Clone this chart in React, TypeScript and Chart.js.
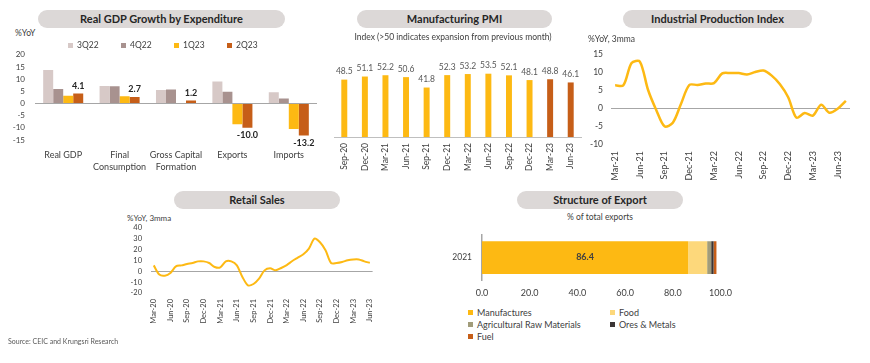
import React, { useEffect, useRef } from 'react';
import { Chart, registerables } from 'chart.js';

Chart.register(...registerables);

const FONT = 'Lato, "Open Sans", "Noto Sans", sans-serif';
const TEXT = '#404040';
const GOLD = '#fdb913';
const RUST = '#c65e18';
const AXIS_GRAY = '#a6a6a6';
const PILL_BG = '#dcd8d7';

// ---------- Real GDP Growth by Expenditure ----------
const gdpCategories = [['Real GDP'], ['Final', 'Consumption'], ['Gross Capital', 'Formation'], ['Exports'], ['Imports']];
const gdpSeriesNames = ['3Q22', '4Q22', '1Q23', '2Q23'];
const gdp3Q22 = [13.8, 7.2, 5.5, 9.0, 4.6];
const gdp4Q22 = [6.0, 7.1, 5.7, 4.8, 2.0];
const gdp1Q23 = [3.2, 3.0, 0, -8.5, -10.5];
const gdp2Q23 = [4.1, 2.7, 1.2, -10.0, -13.2];
const gdpColors = ['#d7c9c7', '#a8928f', GOLD, RUST];

// ---------- Manufacturing PMI ----------
const pmiLabels = ['Sep-20', 'Dec-20', 'Mar-21', 'Jun-21', 'Sep-21', 'Dec-21', 'Mar-22', 'Jun-22', 'Sep-22', 'Dec-22', 'Mar-23', 'Jun-23'];
const pmiValues = [48.5, 51.1, 52.2, 50.6, 41.8, 52.3, 53.2, 53.5, 52.1, 48.1, 48.8, 46.1];
const pmiHighlightLabels = ['Mar-23', 'Jun-23'];

// ---------- Industrial Production Index ----------
const ipiMonths = ['Mar-21', 'Apr-21', 'May-21', 'Jun-21', 'Jul-21', 'Aug-21', 'Sep-21', 'Oct-21', 'Nov-21', 'Dec-21',
  'Jan-22', 'Feb-22', 'Mar-22', 'Apr-22', 'May-22', 'Jun-22', 'Jul-22', 'Aug-22', 'Sep-22', 'Oct-22', 'Nov-22', 'Dec-22',
  'Jan-23', 'Feb-23', 'Mar-23', 'Apr-23', 'May-23', 'Jun-23', 'Jul-23'];
const ipiValues = [6.3, 6.3, 12.5, 12.9, 5.0, -0.6, -5.1, -4.1, 1.2, 6.4,
  6.4, 6.8, 6.9, 9.6, 9.7, 9.7, 9.3, 10.0, 10.4, 9.0, 6.6, 3.0,
  -2.7, -1.4, -2.1, 0.9, -1.3, -0.2, 2.0];

// ---------- Retail Sales ----------
const retailMonths = ['Mar-20', 'Apr-20', 'May-20', 'Jun-20', 'Jul-20', 'Aug-20', 'Sep-20', 'Oct-20', 'Nov-20', 'Dec-20',
  'Jan-21', 'Feb-21', 'Mar-21', 'Apr-21', 'May-21', 'Jun-21', 'Jul-21', 'Aug-21', 'Sep-21', 'Oct-21', 'Nov-21', 'Dec-21',
  'Jan-22', 'Feb-22', 'Mar-22', 'Apr-22', 'May-22', 'Jun-22', 'Jul-22', 'Aug-22', 'Sep-22', 'Oct-22', 'Nov-22', 'Dec-22',
  'Jan-23', 'Feb-23', 'Mar-23', 'Apr-23', 'May-23', 'Jun-23'];
const retailValues = [5.5, -3.0, -4.0, -1.5, 4.6, 5.5, 6.8, 7.7, 9.2, 9.2,
  7.7, 4.0, 3.7, 9.2, 9.2, 5.5, -5.2, -12.9, -11.7, -6.8, 0.9, 2.8,
  0.9, 3.1, 5.8, 9.5, 12.6, 15.7, 20.9, 30.2, 26.8, 19.4, 7.7, 7.7,
  8.6, 10.2, 11.0, 11.0, 9.2, 7.9];

// ---------- Structure of Export ----------
const exportYears = ['2021'];
const exportCategories = ['Manufactures', 'Food', 'Agricultural Raw Materials', 'Ores & Metals', 'Fuel'];
const exportShares = [86.4, 8.0, 1.7, 1.0, 1.2];
const exportColors = [GOLD, '#fdd87b', '#a19c7a', '#3b3535', RUST];

const font = (size: number, weight: string = 'normal', lineHeight: number = 1.2) => ({ family: FONT, size, weight, lineHeight });

const zeroGrid = {
  drawTicks: false,
  color: (ctx: any) => (ctx.tick && ctx.tick.value === 0 ? AXIS_GRAY : 'rgba(0,0,0,0)'),
  lineWidth: 1,
};

const quarterTick = function (this: any, v: any, i: number) {
  return i % 3 === 0 ? this.getLabelForValue(v) : null;
};

const baseOptions = {
  responsive: false,
  maintainAspectRatio: false,
  animation: false,
  events: [],
};

function gdpConfig(): any {
  const series = [gdp3Q22, gdp4Q22, gdp1Q23, gdp2Q23];
  const labelPlugin = {
    id: 'gdpLabels',
    afterDatasetsDraw(chart: any) {
      const ctx = chart.ctx;
      const meta = chart.getDatasetMeta(3);
      ctx.save();
      ctx.font = `bold 9px ${FONT}`;
      ctx.fillStyle = '#262626';
      ctx.textAlign = 'center';
      meta.data.forEach((bar: any, i: number) => {
        const v = gdp2Q23[i];
        if (v >= 0) {
          ctx.textBaseline = 'bottom';
          ctx.fillText(v.toFixed(1), bar.x, bar.y - 3);
        } else {
          ctx.textBaseline = 'top';
          ctx.fillText(v.toFixed(1), bar.x, bar.y + 3);
        }
      });
      ctx.restore();
    },
  };
  return {
    type: 'bar',
    data: {
      labels: gdpCategories,
      datasets: gdpSeriesNames.map((name, i) => ({
        label: name,
        data: series[i],
        backgroundColor: gdpColors[i],
        borderWidth: 0,
        categoryPercentage: 0.71,
        barPercentage: 1,
      })),
    },
    options: {
      ...baseOptions,
      layout: { padding: { left: 0, right: 8, top: 0, bottom: 0 } },
      plugins: { legend: { display: false }, tooltip: { enabled: false } },
      scales: {
        x: {
          grid: { display: false, drawTicks: false },
          border: { display: false },
          ticks: { color: TEXT, font: font(9, 'normal', 1.35), padding: 9, autoSkip: false, maxRotation: 0, minRotation: 0 },
          afterFit: (s: any) => { s.height = 45; },
        },
        y: {
          min: -15,
          max: 20,
          ticks: { stepSize: 5, autoSkip: false, color: TEXT, font: font(8), padding: 10 },
          grid: zeroGrid,
          border: { display: false },
          afterFit: (s: any) => { s.width = 35; },
        },
      },
    },
    plugins: [labelPlugin],
  };
}

function pmiConfig(): any {
  const labelPlugin = {
    id: 'pmiLabels',
    afterDatasetsDraw(chart: any) {
      const ctx = chart.ctx;
      const meta = chart.getDatasetMeta(0);
      ctx.save();
      ctx.font = `8.5px ${FONT}`;
      ctx.fillStyle = '#595959';
      ctx.textAlign = 'center';
      ctx.textBaseline = 'bottom';
      meta.data.forEach((bar: any, i: number) => {
        ctx.fillText(pmiValues[i].toFixed(1), bar.x, bar.y - 4);
      });
      ctx.restore();
    },
  };
  return {
    type: 'bar',
    data: {
      labels: pmiLabels,
      datasets: [{
        data: pmiValues,
        backgroundColor: pmiLabels.map((l) => (pmiHighlightLabels.includes(l) ? RUST : GOLD)),
        borderWidth: 0,
        categoryPercentage: 1,
        barPercentage: 0.29,
      }],
    },
    options: {
      ...baseOptions,
      layout: { padding: { left: 16, right: 9, top: 26, bottom: 0 } },
      plugins: { legend: { display: false }, tooltip: { enabled: false } },
      scales: {
        x: {
          grid: { display: false, drawTicks: false },
          border: { display: true, color: '#bfbfbf', width: 1 },
          ticks: { color: TEXT, font: font(8.5), padding: 6, autoSkip: false, minRotation: 90, maxRotation: 90 },
          afterFit: (s: any) => { s.height = 48; },
        },
        y: { display: false, min: 0, max: 60 },
      },
    },
    plugins: [labelPlugin],
  };
}

function lineConfig(labels: string[], values: number[], yMin: number, yMax: number, step: number,
  pad: any, yWidth: number, xHeight: number, tickSize: number, xTickSize: number, xPad: number, yPad: number, lw: number): any {
  return {
    type: 'line',
    data: {
      labels,
      datasets: [{
        data: values,
        borderColor: GOLD,
        borderWidth: lw,
        pointRadius: 0,
        tension: 0.3,
        fill: false,
      }],
    },
    options: {
      ...baseOptions,
      layout: { padding: pad },
      plugins: { legend: { display: false }, tooltip: { enabled: false } },
      scales: {
        x: {
          offset: true,
          grid: { display: false, drawTicks: false },
          border: { display: false },
          ticks: { color: TEXT, font: font(xTickSize), padding: xPad, autoSkip: false, minRotation: 90, maxRotation: 90, callback: quarterTick },
          afterFit: (s: any) => { s.height = xHeight; },
        },
        y: {
          min: yMin,
          max: yMax,
          ticks: { stepSize: step, autoSkip: false, color: TEXT, font: font(tickSize), padding: yPad },
          grid: zeroGrid,
          border: { display: false },
          afterFit: (s: any) => { s.width = yWidth; },
        },
      },
    },
  };
}

function exportConfig(): any {
  const labelPlugin = {
    id: 'exportLabels',
    afterDatasetsDraw(chart: any) {
      const ctx = chart.ctx;
      const meta = chart.getDatasetMeta(0);
      ctx.save();
      ctx.font = `bold 9px ${FONT}`;
      ctx.fillStyle = '#404040';
      ctx.textAlign = 'center';
      ctx.textBaseline = 'middle';
      meta.data.forEach((bar: any, i: number) => {
        ctx.fillText(exportShares[0].toFixed(1), (bar.x + bar.base) / 2, bar.y);
      });
      ctx.restore();
    },
  };
  return {
    type: 'bar',
    data: {
      labels: exportYears,
      datasets: exportCategories.map((c, i) => ({
        label: c,
        data: [exportShares[i]],
        backgroundColor: exportColors[i],
        borderWidth: 0,
        barPercentage: 0.73,
        categoryPercentage: 1,
      })),
    },
    options: {
      ...baseOptions,
      indexAxis: 'y',
      layout: { padding: { left: 0, right: 19, top: 8, bottom: 0 } },
      plugins: { legend: { display: false }, tooltip: { enabled: false } },
      scales: {
        x: {
          stacked: true,
          min: 0,
          max: 100,
          ticks: { stepSize: 20, color: TEXT, font: font(9), padding: 8, callback: (v: any) => Number(v).toFixed(1) },
          grid: { display: false, drawTicks: false },
          border: { display: false },
          afterFit: (s: any) => { s.height = 25; },
        },
        y: {
          stacked: true,
          grid: { display: false, drawTicks: false },
          border: { display: true, color: AXIS_GRAY, width: 1.5 },
          ticks: { color: TEXT, font: font(8.5), padding: 10 },
          afterFit: (s: any) => { s.width = 52; },
        },
      },
    },
    plugins: [labelPlugin],
  };
}

function ChartCanvas({ x, y, w, h, make }: { x: number; y: number; w: number; h: number; make: () => any }) {
  const ref = useRef<HTMLCanvasElement>(null);
  useEffect(() => {
    const chart = new Chart(ref.current as HTMLCanvasElement, make());
    return () => chart.destroy();
  }, []);
  return (
    <canvas
      ref={ref}
      width={w}
      height={h}
      style={{ position: 'absolute', left: x, top: y, width: w, height: h }}
    />
  );
}

function Pill({ x1, x2, y, text }: { x1: number; x2: number; y: number; text: string }) {
  return (
    <div
      style={{
        position: 'absolute',
        left: x1,
        top: y,
        width: x2 - x1,
        height: 18,
        borderRadius: 9,
        background: PILL_BG,
        color: '#262626',
        fontWeight: 'bold',
        fontSize: 11,
        lineHeight: '18px',
        textAlign: 'center',
        whiteSpace: 'nowrap',
      }}
    >
      {text}
    </div>
  );
}

function Label({ x, cy, size, text, center, color }: { x: number; cy: number; size: number; text: string; center?: boolean; color?: string }) {
  const h = Math.round(size * 1.3);
  return (
    <div
      style={{
        position: 'absolute',
        left: x,
        top: cy - h / 2,
        height: h,
        lineHeight: h + 'px',
        fontSize: size,
        color: color || TEXT,
        whiteSpace: 'nowrap',
        transform: center ? 'translateX(-50%)' : undefined,
      }}
    >
      {text}
    </div>
  );
}

function LegendItem({ x, cy, color, text, size }: { x: number; cy: number; color: string; text: string; size: number }) {
  return (
    <div style={{ position: 'absolute', left: x, top: cy - 7, height: 14, display: 'flex', alignItems: 'center', whiteSpace: 'nowrap', fontSize: size, color: TEXT }}>
      <span style={{ display: 'inline-block', width: 5, height: 5, background: color, marginRight: 4 }} />
      <span>{text}</span>
    </div>
  );
}

export default function App() {
  useEffect(() => {
    document.body.style.margin = '0';
  }, []);
  const gdpLegendX = [68, 121, 174, 227];
  const exportLegendPos = [
    [468, 312], [610, 312], [468, 324], [610, 324], [468, 336],
  ];
  return (
    <div style={{ position: 'relative', width: 870, height: 363, overflow: 'hidden', background: '#ffffff', fontFamily: FONT }}>
      {/* GDP */}
      <Pill x1={38} x2={285} y={10} text="Real GDP Growth by Expenditure" />
      <Label x={15} cy={33} size={8.5} text="%YoY" />
      <ChartCanvas x={0} y={40} w={325} h={145} make={gdpConfig} />
      {gdpSeriesNames.map((n, i) => (
        <LegendItem key={n} x={gdpLegendX[i]} cy={45} color={gdpColors[i]} text={n} size={8.5} />
      ))}

      {/* PMI */}
      <Pill x1={357} x2={552} y={10} text="Manufacturing PMI" />
      <Label x={453} cy={37} size={8.5} text="Index (>50 indicates expansion from previous month)" center />
      <ChartCanvas x={318} y={40} w={272} h={145} make={pmiConfig} />

      {/* IPI */}
      <Pill x1={623} x2={812} y={10} text="Industrial Production Index" />
      <Label x={588} cy={39} size={8.5} text="%YoY, 3mma" />
      <ChartCanvas
        x={580} y={40} w={290} h={145}
        make={() => lineConfig(ipiMonths, ipiValues, -10, 15, 5, { left: 0, right: 20, top: 14, bottom: 0 }, 31, 41, 8.5, 9, 7, 8, 2.5)}
      />

      {/* Retail */}
      <Pill x1={174} x2={340} y={191} text="Retail Sales" />
      <Label x={127} cy={218} size={8} text="%YoY, 3mma" />
      <ChartCanvas
        x={100} y={210} w={285} h={130}
        make={() => lineConfig(retailMonths, retailValues, -20, 40, 10, { left: 0, right: 12, top: 18, bottom: 0 }, 51, 47, 7.5, 7.5, 6, 9, 2)}
      />

      {/* Export */}
      <Pill x1={517} x2={683} y={191} text="Structure of Export" />
      <Label x={600} cy={217} size={8.5} text="% of total exports" center />
      <ChartCanvas x={430} y={220} w={310} h={85} make={exportConfig} />
      {exportCategories.map((c, i) => (
        <LegendItem key={c} x={exportLegendPos[i][0]} cy={exportLegendPos[i][1]} color={exportColors[i]} text={c} size={9} />
      ))}

      <Label x={8} cy={341} size={7} text="Source: CEIC and Krungsri Research" color="#595959" />
    </div>
  );
}
